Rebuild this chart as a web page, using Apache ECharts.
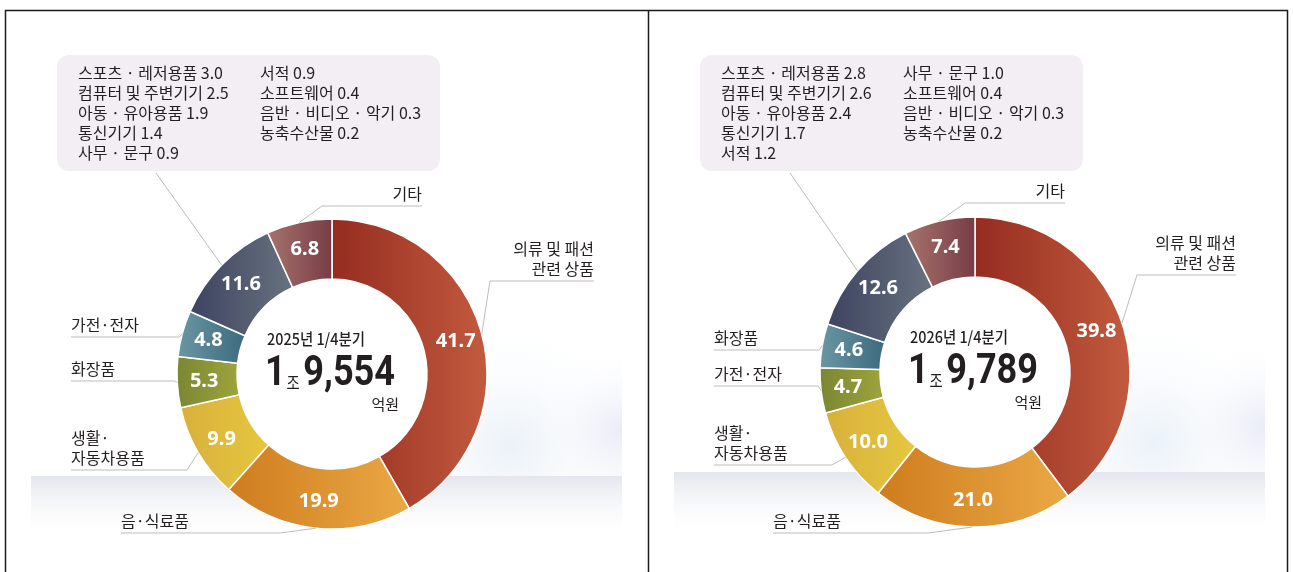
<!DOCTYPE html>
<html>
<head>
<meta charset="utf-8">
<script src="https://cdn.jsdelivr.net/npm/echarts@6/dist/echarts.min.js"></script>
<style>
  html, body { margin: 0; padding: 0; background: #fff; }
  #main { width: 1293px; height: 572px; }
</style>
</head>
<body>
<div id="main"></div>
<script>
// 상품군별 구성비 (%), 1/4분기
const names2025 = ['의류 및 패션\n관련 상품', '음·식료품', '생활·\n자동차용품', '화장품', '가전·전자', '기타 상품군', '기타'];
const values2025 = [41.7, 19.9, 9.9, 5.3, 4.8, 11.6, 6.8];
const names2026 = ['의류 및 패션\n관련 상품', '음·식료품', '생활·\n자동차용품', '가전·전자', '화장품', '기타 상품군', '기타'];
const values2026 = [39.8, 21.0, 10.0, 4.7, 4.6, 12.6, 7.4];

// 기타 상품군 내역
const detailNames2025 = ['스포츠 · 레저용품', '컴퓨터 및 주변기기', '아동 · 유아용품', '통신기기', '사무 · 문구', '서적', '소프트웨어', '음반 · 비디오 · 악기', '농축수산물'];
const detailValues2025 = [3.0, 2.5, 1.9, 1.4, 0.9, 0.9, 0.4, 0.3, 0.2];
const detailNames2026 = ['스포츠 · 레저용품', '컴퓨터 및 주변기기', '아동 · 유아용품', '통신기기', '서적', '사무 · 문구', '소프트웨어', '음반 · 비디오 · 악기', '농축수산물'];
const detailValues2026 = [2.8, 2.6, 2.4, 1.7, 1.2, 1.0, 0.4, 0.3, 0.2];

const periods = ['2025년 1/4분기', '2026년 1/4분기'];
const totalJo = ['1', '1'];
const totalEok = ['9,554', '9,789'];

const KR = '"Noto Sans CJK KR", "Noto Sans", sans-serif';
const NUM = '"Noto Sans", "Open Sans", sans-serif';
const BIG = 'Roboto, "Noto Sans", sans-serif';
const GROUP = 5;

// colours by position, clockwise from 12 o'clock (left -> right gradient)
const sliceColors = [
  ['#952c20', '#c25b3e'],
  ['#cf7c1e', '#eaa944'],
  ['#d8b03c', '#e6c73f'],
  ['#7a8632', '#9ea43c'],
  ['#6b97a4', '#3c6a7d'],
  ['#3d4360', '#68727f'],
  ['#a7736d', '#763c45']
];

// leader lines: underline end / elbow, label box position
const guides2025 = [
  { elbow: [490, 281], end: [594, 281], align: 'right' },
  { elbow: [280, 533], end: [121, 533], align: 'left' },
  { elbow: [187, 470], end: [71, 470], align: 'left' },
  { end: [71, 381], align: 'left' },
  { end: [71, 337], align: 'left' },
  { box: [57, 55], end: [156, 173] },
  { elbow: [322, 206], end: [422, 206], align: 'right' }
];
const guides2026 = [
  { elbow: [1137, 275], end: [1236, 275], align: 'right' },
  { elbow: [928, 533], end: [773, 533], align: 'left' },
  { elbow: [832, 465], end: [714, 465], align: 'left' },
  { end: [714, 386], align: 'left' },
  { end: [714, 350], align: 'left' },
  { box: [700, 55], end: [790, 173] },
  { elbow: [965, 203], end: [1065, 203], align: 'right' }
];

const panels = [
  { names: names2025, values: values2025, dNames: detailNames2025, dValues: detailValues2025, center: [332, 374], guides: guides2025 },
  { names: names2026, values: values2026, dNames: detailNames2026, dValues: detailValues2026, center: [975, 372], guides: guides2026 }
];

function boxText(p) {
  let rows = [];
  for (let i = 0; i < 5; i++) {
    let row = '{a|' + p.dNames[i] + ' ' + p.dValues[i].toFixed(1) + '}';
    if (i + 5 < p.dNames.length) row += '{b|' + p.dNames[i + 5] + ' ' + p.dValues[i + 5].toFixed(1) + '}';
    rows.push(row);
  }
  return rows.join('\n');
}

function layoutGuide(g, params) {
  const p0 = params.labelLinePoints[0];
  if (g.box) {
    return { x: g.box[0], y: g.box[1], align: 'left', verticalAlign: 'top',
      labelLinePoints: [p0, p0, g.end] };
  }
  const y = g.end[1];
  const elbow = g.elbow || [p0[0] + (g.align === 'left' ? -3 : 3), y];
  return { x: g.end[0], y: y - 2, align: g.align, verticalAlign: 'bottom',
    labelLinePoints: [p0, elbow, g.end] };
}

let series = [];
panels.forEach(function (p) {
  series.push({
    type: 'pie',
    center: p.center,
    radius: [95, 155],
    startAngle: 90,
    silent: true,
    itemStyle: { borderColor: '#fff', borderWidth: 1.5 },
    label: {
      position: 'inside',
      formatter: function (d) { return d.value.toFixed(1); },
      color: '#fff', fontSize: 20, fontWeight: 'bold', fontFamily: NUM
    },
    labelLine: { show: false },
    data: p.names.map(function (n, i) {
      return {
        name: n, value: p.values[i],
        itemStyle: {
          color: new echarts.graphic.LinearGradient(0, 0, 1, 0, [
            { offset: 0, color: sliceColors[i][0] },
            { offset: 1, color: sliceColors[i][1] }
          ])
        }
      };
    })
  });
  series.push({
    type: 'pie',
    center: p.center,
    radius: [95, 155],
    startAngle: 90,
    silent: true,
    z: 3,
    itemStyle: { color: 'rgba(0,0,0,0)', borderWidth: 0 },
    label: {
      position: 'outside', formatter: '{b}',
      color: '#231f20', fontSize: 16, lineHeight: 20, fontFamily: KR
    },
    labelLine: { show: true, length: 10, length2: 10, lineStyle: { color: '#bdbdbd', width: 1 } },
    labelLayout: function (params) { return layoutGuide(p.guides[params.dataIndex], params); },
    data: p.names.map(function (n, i) {
      let d = { name: n, value: p.values[i] };
      if (i === GROUP) {
        d.label = {
          formatter: boxText(p),
          width: 342,
          lineHeight: 20,
          backgroundColor: '#f2eef3',
          borderRadius: 12,
          padding: [8, 20, 8, 21],
          rich: {
            a: { width: 182, fontSize: 16, lineHeight: 20, color: '#231f20', fontFamily: KR },
            b: { width: 160, fontSize: 16, lineHeight: 20, color: '#231f20', fontFamily: KR }
          }
        };
      }
      return d;
    })
  });
});

function fade(c0) {
  return new echarts.graphic.LinearGradient(0, 0, 0, 1, [
    { offset: 0, color: c0 }, { offset: 1, color: 'rgba(255,255,255,0)' }
  ]);
}
function glow(x, y, r, c) {
  return new echarts.graphic.RadialGradient(x, y, r, [
    { offset: 0, color: c }, { offset: 1, color: 'rgba(255,255,255,0)' }
  ]);
}

let graphics = [
  { type: 'rect', shape: { x: 5.5, y: 10.5, width: 1282, height: 600 }, style: { fill: 'none', stroke: '#1a1a1a', lineWidth: 1.5 } },
  { type: 'line', shape: { x1: 648.5, y1: 10, x2: 648.5, y2: 572 }, style: { stroke: '#1a1a1a', lineWidth: 1.5 } }
];
[[31, 476, 420], [674, 472, 1063]].forEach(function (b) {
  const w = b[0] + 591 - b[2];
  graphics.push({ type: 'rect', shape: { x: b[0], y: b[1], width: 591, height: 66 }, style: { fill: fade('#e4e6ee') } });
  graphics.push({ type: 'rect', shape: { x: b[2], y: b[1] - 150, width: w, height: 150 }, style: { fill: glow(0.45, 0.8, 0.9, 'rgba(196,216,236,0.35)') } });
  graphics.push({ type: 'rect', shape: { x: b[2], y: b[1] - 150, width: w, height: 150 }, style: { fill: glow(1, 0.7, 0.6, 'rgba(200,206,234,0.4)') } });
});
panels.forEach(function (p, i) {
  const cx = p.center[0], cy = p.center[1];
  graphics.push({ type: 'text', x: cx - 16, y: cy - 35, z: 5, scaleX: 0.9,
    style: { text: periods[i], fontSize: 16, fontWeight: 500, fontFamily: KR, fill: '#231f20', align: 'center', verticalAlign: 'middle' } });
  graphics.push({ type: 'text', x: cx - 2, y: cy, z: 5, scaleX: 0.84,
    style: {
      text: '{n|' + totalJo[i] + '}{u|조} {n|' + totalEok[i] + '}',
      align: 'center', verticalAlign: 'middle',
      rich: {
        n: { fontSize: 43, fontWeight: 'bold', fontFamily: BIG, fill: '#231f20' },
        u: { fontSize: 17, fontFamily: KR, fill: '#231f20', verticalAlign: 'bottom', padding: [0, 1, 4, 1] }
      }
    } });
  graphics.push({ type: 'text', x: cx + 67, y: cy + 30, z: 5,
    style: { text: '억원', fontSize: 15, fontFamily: KR, fill: '#231f20', align: 'right', verticalAlign: 'middle' } });
});

const chart = echarts.init(document.getElementById('main'));
chart.setOption({
  animation: false,
  backgroundColor: '#fff',
  graphic: graphics,
  series: series
});
</script>
</body>
</html>
